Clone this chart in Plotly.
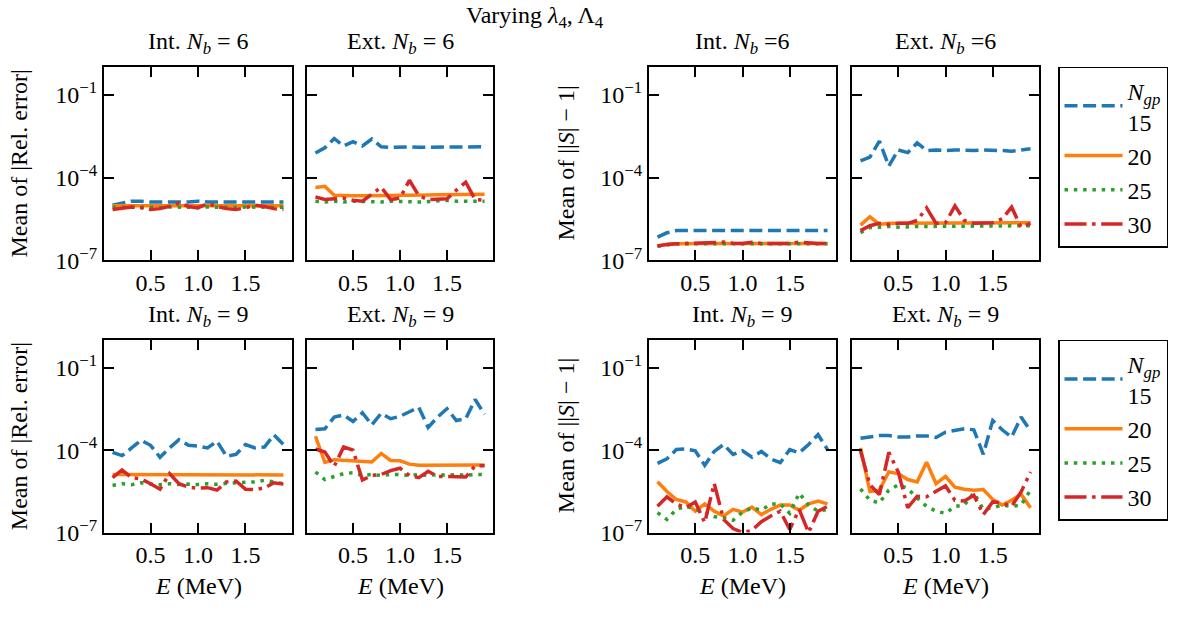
import plotly.graph_objects as go
from plotly.subplots import make_subplots

# Energy grid (MeV)
E = [0.1, 0.2, 0.3, 0.4, 0.5, 0.6, 0.7, 0.8, 0.9, 1.0,
     1.1, 1.2, 1.3, 1.4, 1.5, 1.6, 1.7, 1.8, 1.9]

N_GP = [15, 20, 25, 30]

# ---- Mean |Rel. error|, interior, N_b = 6
rel_int6_15 = [1.0e-5, 1.2e-5, 1.4e-5, 1.4e-5, 1.3e-5, 1.3e-5, 1.3e-5, 1.3e-5, 1.3e-5, 1.4e-5,
               1.3e-5, 1.3e-5, 1.3e-5, 1.3e-5, 1.3e-5, 1.3e-5, 1.3e-5, 1.3e-5, 1.3e-5]
rel_int6_20 = [9.5e-6, 9.5e-6, 9.6e-6, 9.5e-6, 9.5e-6, 9.6e-6, 9.5e-6, 9.5e-6, 9.6e-6, 9.5e-6,
               9.5e-6, 9.6e-6, 9.5e-6, 9.5e-6, 9.6e-6, 9.5e-6, 9.5e-6, 9.6e-6, 9.5e-6]
rel_int6_25 = [8.5e-6, 8.3e-6, 8.6e-6, 8.4e-6, 8.5e-6, 8.2e-6, 8.6e-6, 8.4e-6, 8.5e-6, 8.3e-6,
               8.6e-6, 8.4e-6, 8.5e-6, 8.2e-6, 8.6e-6, 8.4e-6, 8.5e-6, 8.3e-6, 8.5e-6]
rel_int6_30 = [7.0e-6, 7.5e-6, 8.5e-6, 8.0e-6, 7.0e-6, 7.5e-6, 9.0e-6, 1.2e-5, 9.0e-6, 8.0e-6,
               1.15e-5, 9.0e-6, 7.5e-6, 7.0e-6, 8.0e-6, 1.0e-5, 9.0e-6, 7.5e-6, 7.0e-6]

# ---- Mean |Rel. error|, exterior, N_b = 6
rel_ext6_15 = [7.8e-4, 1.2e-3, 2.6e-3, 1.4e-3, 2.0e-3, 1.4e-3, 2.5e-3, 1.3e-3, 1.25e-3, 1.3e-3,
               1.3e-3, 1.25e-3, 1.25e-3, 1.25e-3, 1.25e-3, 1.25e-3, 1.3e-3, 1.3e-3, 1.3e-3]
rel_ext6_20 = [4.4e-5, 4.8e-5, 2.3e-5, 2.2e-5, 2.2e-5, 2.2e-5, 2.2e-5, 2.2e-5, 2.3e-5, 2.3e-5,
               2.3e-5, 2.3e-5, 2.35e-5, 2.4e-5, 2.4e-5, 2.45e-5, 2.5e-5, 2.5e-5, 2.5e-5]
rel_ext6_25 = [1.4e-5, 1.3e-5, 1.4e-5, 1.3e-5, 1.4e-5, 1.35e-5, 1.4e-5, 1.3e-5, 1.4e-5, 1.35e-5,
               1.4e-5, 1.3e-5, 1.35e-5, 1.4e-5, 1.5e-5, 1.4e-5, 1.4e-5, 1.45e-5, 1.4e-5]
rel_ext6_30 = [2.0e-5, 1.6e-5, 1.7e-5, 1.8e-5, 1.5e-5, 1.4e-5, 2.5e-5, 4.5e-5, 1.6e-5, 1.8e-5,
               8.0e-5, 2.2e-5, 1.6e-5, 1.6e-5, 1.7e-5, 3.5e-5, 6.8e-5, 1.6e-5, 1.5e-5]

# ---- Mean ||S|-1|, interior, N_b = 6
s_int6_15 = [7.0e-7, 1.0e-6, 1.2e-6, 1.2e-6, 1.2e-6, 1.2e-6, 1.2e-6, 1.2e-6, 1.2e-6, 1.2e-6,
             1.2e-6, 1.2e-6, 1.2e-6, 1.2e-6, 1.2e-6, 1.2e-6, 1.2e-6, 1.2e-6, 1.2e-6]
s_int6_20 = [3.3e-7, 3.8e-7, 4.0e-7, 4.1e-7, 4.1e-7, 4.1e-7, 4.1e-7, 4.1e-7, 4.1e-7, 4.1e-7,
             4.1e-7, 4.1e-7, 4.1e-7, 4.1e-7, 4.1e-7, 4.1e-7, 4.1e-7, 4.1e-7, 4.1e-7]
s_int6_25 = [3.3e-7, 3.7e-7, 4.0e-7, 4.0e-7, 4.0e-7, 4.0e-7, 4.0e-7, 4.0e-7, 4.0e-7, 4.0e-7,
             4.0e-7, 4.0e-7, 4.0e-7, 4.0e-7, 4.0e-7, 4.0e-7, 4.0e-7, 4.0e-7, 4.0e-7]
s_int6_30 = [3.3e-7, 3.8e-7, 4.0e-7, 4.1e-7, 4.1e-7, 4.1e-7, 4.2e-7, 4.6e-7, 4.2e-7, 4.1e-7,
             4.5e-7, 4.1e-7, 4.1e-7, 4.1e-7, 4.1e-7, 4.6e-7, 4.2e-7, 4.1e-7, 4.1e-7]

# ---- Mean ||S|-1|, exterior, N_b = 6
s_ext6_15 = [4.0e-4, 5.5e-4, 2.1e-3, 2.6e-4, 1.0e-3, 8.0e-4, 1.8e-3, 9.5e-4, 1.0e-3, 9.5e-4,
             1.0e-3, 9.5e-4, 9.5e-4, 1.0e-3, 1.0e-3, 9.5e-4, 9.0e-4, 1.0e-3, 1.1e-3]
s_ext6_20 = [1.9e-6, 3.8e-6, 2.0e-6, 2.2e-6, 2.2e-6, 2.2e-6, 2.2e-6, 2.2e-6, 2.2e-6, 2.2e-6,
             2.2e-6, 2.2e-6, 2.2e-6, 2.2e-6, 2.3e-6, 2.3e-6, 2.3e-6, 2.3e-6, 2.3e-6]
s_ext6_25 = [1.0e-6, 1.55e-6, 1.6e-6, 1.7e-6, 1.6e-6, 1.7e-6, 1.7e-6, 1.7e-6, 1.7e-6, 1.8e-6,
             1.7e-6, 1.8e-6, 1.8e-6, 1.7e-6, 1.7e-6, 1.7e-6, 1.8e-6, 1.7e-6, 1.8e-6]
s_ext6_30 = [1.2e-6, 1.8e-6, 2.2e-6, 2.0e-6, 2.2e-6, 2.2e-6, 2.8e-6, 8.0e-6, 2.2e-6, 2.3e-6,
             9.5e-6, 2.8e-6, 2.2e-6, 2.2e-6, 2.3e-6, 3.2e-6, 8.5e-6, 1.6e-6, 2.2e-6]

# ---- Mean |Rel. error|, interior, N_b = 9
rel_int9_15 = [8.3e-5, 6.3e-5, 1.2e-4, 2.3e-4, 1.5e-4, 5.5e-5, 1.2e-4, 2.4e-4, 1.5e-4, 1.4e-4,
               1.2e-4, 2.1e-4, 6.0e-5, 7.0e-5, 1.6e-4, 1.2e-4, 1.3e-4, 3.6e-4, 1.6e-4]
rel_int9_20 = [1.3e-5, 1.3e-5, 1.25e-5, 1.25e-5, 1.3e-5, 1.25e-5, 1.25e-5, 1.3e-5, 1.3e-5, 1.3e-5,
               1.3e-5, 1.3e-5, 1.3e-5, 1.3e-5, 1.3e-5, 1.3e-5, 1.3e-5, 1.3e-5, 1.25e-5]
rel_int9_25 = [5.2e-6, 6.0e-6, 5.5e-6, 6.5e-6, 5.8e-6, 5.5e-6, 6.0e-6, 5.6e-6, 5.8e-6, 5.6e-6,
               6.0e-6, 5.7e-6, 6.2e-6, 6.5e-6, 7.0e-6, 7.0e-6, 8.0e-6, 7.0e-6, 6.0e-6]
rel_int9_30 = [1.0e-5, 1.9e-5, 1.0e-5, 9.0e-6, 6.0e-6, 3.8e-6, 1.4e-5, 6.0e-6, 4.5e-6, 4.1e-6,
               4.3e-6, 3.5e-6, 7.0e-6, 7.5e-6, 3.8e-6, 3.7e-6, 4.2e-6, 6.5e-6, 5.8e-6]

# ---- Mean |Rel. error|, exterior, N_b = 9
rel_ext9_15 = [5.6e-4, 6.0e-4, 1.6e-3, 1.9e-3, 1.1e-3, 2.3e-3, 8.3e-4, 2.2e-3, 1.4e-3, 1.7e-3,
               2.5e-3, 3.6e-3, 6.7e-4, 1.6e-3, 3.2e-3, 1.2e-3, 1.4e-3, 7.0e-3, 2.0e-3]
rel_ext9_20 = [3.2e-4, 3.6e-5, 4.5e-5, 4.3e-5, 4.0e-5, 3.9e-5, 3.7e-5, 7.6e-5, 4.2e-5, 4.1e-5,
               3.1e-5, 2.8e-5, 2.8e-5, 2.7e-5, 2.7e-5, 2.7e-5, 2.8e-5, 2.9e-5, 2.9e-5]
rel_ext9_25 = [1.6e-5, 8.5e-6, 1.1e-5, 1.4e-5, 1.5e-5, 1.2e-5, 1.3e-5, 1.2e-5, 1.3e-5, 1.3e-5,
               1.2e-5, 1.3e-5, 1.2e-5, 1.3e-5, 1.2e-5, 1.3e-5, 1.2e-5, 1.3e-5, 1.3e-5]
rel_ext9_30 = [1.1e-4, 8.5e-5, 2.6e-5, 1.3e-4, 1.0e-4, 8.1e-6, 1.2e-5, 1.3e-5, 1.8e-5, 2.2e-5,
               1.2e-5, 1.0e-5, 1.7e-5, 1.1e-5, 1.1e-5, 1.05e-5, 1.05e-5, 2.7e-5, 2.7e-5]

# ---- Mean ||S|-1|, interior, N_b = 9
s_int9_15 = [3.3e-5, 4.8e-5, 1.05e-4, 1.1e-4, 9.5e-5, 2.8e-5, 9.0e-5, 1.6e-4, 7.0e-5, 9.5e-5,
             5.5e-5, 9.0e-5, 4.8e-5, 3.5e-5, 1.05e-4, 8.0e-5, 1.6e-4, 3.7e-4, 1.05e-4]
s_int9_20 = [7.1e-6, 3.1e-6, 1.6e-6, 1.3e-6, 6.0e-7, 1.1e-6, 6.0e-7, 4.0e-7, 7.0e-7, 5.5e-7,
             8.5e-7, 4.5e-7, 7.0e-7, 1.0e-6, 1.0e-6, 6.5e-7, 1.1e-6, 1.4e-6, 1.1e-6]
s_int9_25 = [5.3e-7, 3.0e-7, 7.0e-7, 9.0e-7, 7.0e-7, 5.5e-7, 3.8e-7, 3.5e-7, 2.8e-7, 5.5e-7,
             8.0e-7, 6.5e-7, 1.1e-6, 1.1e-6, 5.0e-7, 2.7e-6, 1.0e-6, 6.0e-7, 7.0e-7]
s_int9_30 = [9.0e-7, 2.0e-6, 1.1e-6, 8.0e-7, 1.3e-6, 2.3e-7, 6.2e-6, 3.0e-7, 1.4e-7, 1.0e-7,
             1.2e-7, 2.5e-7, 4.0e-7, 6.0e-7, 1.3e-7, 7.0e-7, 1.0e-7, 6.0e-7, 9.0e-7]

# ---- Mean ||S|-1|, exterior, N_b = 9
s_ext9_15 = [2.7e-4, 3.1e-4, 3.4e-4, 3.4e-4, 3.0e-4, 3.0e-4, 3.3e-4, 3.3e-4, 2.9e-4, 4.5e-4,
             5.3e-4, 6.0e-4, 5.5e-4, 7.0e-5, 1.2e-3, 5.5e-4, 3.0e-4, 1.6e-3, 5.0e-4]
s_ext9_20 = [1.2e-4, 3.1e-6, 3.5e-6, 1.6e-5, 1.4e-5, 8.5e-6, 7.0e-6, 3.6e-5, 6.0e-6, 1.1e-5,
             4.5e-6, 3.8e-6, 3.5e-6, 3.7e-6, 1.6e-6, 1.0e-6, 1.5e-6, 2.5e-6, 8.0e-7]
s_ext9_25 = [3.9e-6, 1.5e-6, 1.2e-6, 3.5e-6, 5.5e-6, 4.0e-6, 1.8e-6, 9.0e-7, 6.0e-7, 5.0e-7,
             9.0e-7, 1.0e-6, 2.8e-6, 7.0e-7, 8.0e-7, 1.0e-6, 9.0e-7, 1.0e-6, 3.5e-6]
s_ext9_30 = [9.5e-5, 5.5e-6, 2.4e-6, 8.3e-5, 1.6e-5, 8.0e-7, 2.1e-6, 2.0e-6, 3.2e-6, 5.0e-6,
             1.5e-6, 1.4e-6, 2.3e-6, 4.5e-7, 1.3e-6, 1.2e-6, 9.0e-7, 3.0e-6, 1.6e-5]

# (row, col) -> series for N_gp = 15, 20, 25, 30
panels = {
    (1, 1): [rel_int6_15, rel_int6_20, rel_int6_25, rel_int6_30],
    (1, 2): [rel_ext6_15, rel_ext6_20, rel_ext6_25, rel_ext6_30],
    (1, 3): [s_int6_15, s_int6_20, s_int6_25, s_int6_30],
    (1, 4): [s_ext6_15, s_ext6_20, s_ext6_25, s_ext6_30],
    (2, 1): [rel_int9_15, rel_int9_20, rel_int9_25, rel_int9_30],
    (2, 2): [rel_ext9_15, rel_ext9_20, rel_ext9_25, rel_ext9_30],
    (2, 3): [s_int9_15, s_int9_20, s_int9_25, s_int9_30],
    (2, 4): [s_ext9_15, s_ext9_20, s_ext9_25, s_ext9_30],
}

COLORS = ["#1f77b4", "#ff7f0e", "#2ca02c", "#d62728"]
DASHES = ["13px,5.6px", "solid", "3.5px,5.8px", "22px,5.6px,3.5px,5.6px"]
LW = 3.5
FONT = "Liberation Serif"
FS = 24

W, H = 1203, 618
col_px = [(104, 292), (307, 493), (649, 836), (852, 1039)]
row_px = [(68, 266), (347, 544)]

fig = make_subplots(rows=2, cols=4)

for (r, c), series in panels.items():
    for k, ys in enumerate(series):
        name = "<i>N</i><sub><i>gp</i></sub><br>%d" % N_GP[k] if k == 0 else str(N_GP[k])
        fig.add_trace(
            go.Scatter(
                x=E, y=ys, mode="lines", name=name,
                line=dict(color=COLORS[k], width=LW, dash=DASHES[k]),
                showlegend=(c == 1),
                legend="legend" if r == 1 else "legend2",
            ),
            row=r, col=c,
        )

# Panel placement and axis styling
for r in (1, 2):
    for c in (1, 2, 3, 4):
        idx = (r - 1) * 4 + c
        xs = "xaxis" if idx == 1 else "xaxis%d" % idx
        ys = "yaxis" if idx == 1 else "yaxis%d" % idx
        x0, x1 = col_px[c - 1]
        y0, y1 = row_px[r - 1]
        fig.layout[xs].update(
            domain=[x0 / W, x1 / W], range=[0.01, 1.99],
            tickvals=[0.5, 1.0, 1.5], ticktext=["0.5", "1.0", "1.5"],
            ticks="inside", ticklen=10, tickwidth=1.8, tickcolor="black",
            showline=True, linewidth=2, linecolor="black", mirror="ticks",
            showgrid=False, zeroline=False,
            tickfont=dict(family=FONT, size=FS, color="black"),
        )
        fig.layout[ys].update(
            domain=[1 - y1 / H, 1 - y0 / H], type="log", range=[-7, 0.02],
            tickvals=[1e-7, 1e-4, 1e-1],
            ticktext=["10<sup>\u22127</sup>", "10<sup>\u22124</sup>", "10<sup>\u22121</sup>"],
            showticklabels=(c in (1, 3)),
            ticks="inside", ticklen=10, tickwidth=1.8, tickcolor="black",
            showline=True, linewidth=2, linecolor="black", mirror="ticks",
            showgrid=False, zeroline=False,
            tickfont=dict(family=FONT, size=FS, color="black"),
        )

annotations = []


def ann(text, xpx, ypx, angle=0, size=FS, yanchor="middle"):
    annotations.append(dict(
        text=text, x=xpx / W, y=1 - ypx / H, xref="paper", yref="paper",
        xanchor="center", yanchor=yanchor, showarrow=False, textangle=angle,
        font=dict(family=FONT, size=size, color="black"),
    ))


Nb = "<i>N</i><sub><i>b</i></sub>"
titles = {
    (1, 1): "Int. %s = 6" % Nb, (1, 2): "Ext. %s = 6" % Nb,
    (1, 3): "Int. %s =6" % Nb, (1, 4): "Ext. %s =6" % Nb,
    (2, 1): "Int. %s = 9" % Nb, (2, 2): "Ext. %s = 9" % Nb,
    (2, 3): "Int. %s = 9" % Nb, (2, 4): "Ext. %s = 9" % Nb,
}
for (r, c), t in titles.items():
    x0, x1 = col_px[c - 1]
    y0, _ = row_px[r - 1]
    ann(t, (x0 + x1) / 2, y0 - 24)

for r in (1, 2):
    y0, y1 = row_px[r - 1]
    ann("Mean of |Rel. error|", 19, (y0 + y1) / 2, angle=-90)
    ann("Mean of ||<i>S</i>| \u2212 1|", 566, (y0 + y1) / 2, angle=-90)

for c in (1, 2, 3, 4):
    x0, x1 = col_px[c - 1]
    ann("<i>E</i> (MeV)", (x0 + x1) / 2, 599)

ann("Varying <i>\u03bb</i><sub>4</sub>, \u039b<sub>4</sub>", 535, 0, yanchor="top")

legend_style = dict(
    bordercolor="black", borderwidth=1.5, bgcolor="white",
    font=dict(family=FONT, size=FS, color="black"),
    xanchor="left", yanchor="top", x=1058 / W, tracegroupgap=0,
    itemwidth=58, entrywidth=122,
)

fig.update_layout(
    width=W, height=H, margin=dict(l=0, r=0, t=0, b=0),
    paper_bgcolor="white", plot_bgcolor="white",
    annotations=annotations,
    legend=dict(y=1 - 68 / H, **legend_style),
    legend2=dict(y=1 - 347 / H, **legend_style),
    font=dict(family=FONT, size=FS, color="black"),
)

fig.write_html("out.html")
